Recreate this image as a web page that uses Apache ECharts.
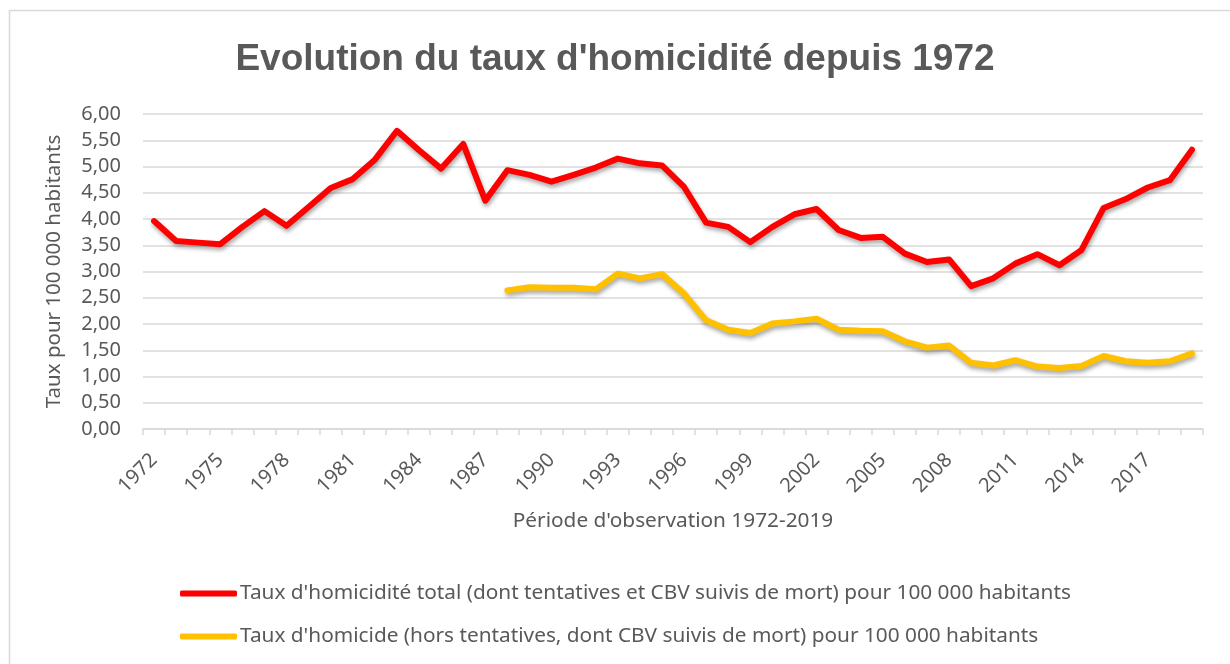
<!DOCTYPE html>
<html><head><meta charset="utf-8">
<script src="https://cdn.jsdelivr.net/npm/echarts@6/dist/echarts.min.js"></script>
<style>html,body{margin:0;padding:0;background:#fff}#c{width:1230px;height:664px}</style>
</head><body><div id="c"></div>
<script>
var years = [];
for (var y = 1972; y <= 2019; y++) years.push(String(y));
var totalRate = [3.96,3.58,3.55,3.52,3.85,4.15,3.87,4.23,4.59,4.76,5.13,5.68,5.31,4.96,5.43,4.35,
  4.93,4.84,4.71,4.84,4.98,5.15,5.06,5.02,4.61,3.93,3.85,3.56,3.85,4.09,4.19,3.79,
  3.64,3.66,3.34,3.18,3.23,2.72,2.87,3.15,3.33,3.12,3.41,4.21,4.38,4.60,4.74,5.32];
var homicideRate = [null,null,null,null,null,null,null,null,null,null,null,null,null,null,null,null,
  2.64,2.70,2.69,2.69,2.66,2.96,2.87,2.95,2.58,2.07,1.89,1.83,2.01,2.05,2.10,1.89,
  1.87,1.86,1.67,1.55,1.59,1.26,1.21,1.31,1.19,1.16,1.20,1.39,1.29,1.26,1.29,1.44];
var titleText = "Evolution du taux d'homicidité depuis 1972";
var yName = "Taux pour 100 000 habitants";
var xName = "Période d'observation 1972-2019";
var seriesNames = ["Taux d'homicidité total (dont tentatives et CBV suivis de mort) pour 100 000 habitants",
  "Taux d'homicide (hors tentatives, dont CBV suivis de mort) pour 100 000 habitants"];

var FONT = "'Noto Sans', sans-serif";
var GRAY = '#595959';
var chart = echarts.init(document.getElementById('c'), null, {renderer: 'canvas'});
var shadow = {shadowColor: 'rgba(0,0,0,0.35)', shadowBlur: 4, shadowOffsetX: 1, shadowOffsetY: 3};
chart.setOption({
  animation: false,
  backgroundColor: '#fff',
  graphic: [{type: 'rect', left: 7, top: 8, shape: {width: 1300, height: 700},
    style: {fill: 'none', stroke: '#d9d9d9', lineWidth: 1.5}, silent: true}],
  title: {text: titleText, left: 'center', top: 36,
    textStyle: {fontFamily: "'Liberation Sans', Arial, sans-serif", fontWeight: 'bold', fontSize: 37, color: GRAY}},
  grid: {left: 143, right: 27, top: 114, bottom: 235},
  legend: {orient: 'vertical', left: 175, top: 578, itemGap: 22, itemWidth: 57, itemHeight: 6,
    icon: 'roundRect', textStyle: {fontFamily: FONT, fontSize: 20.8, color: GRAY, padding: [0,0,0,-2]},
    data: seriesNames},
  xAxis: {type: 'category', data: years, boundaryGap: true,
    name: xName, nameLocation: 'middle', nameGap: 82,
    nameTextStyle: {fontFamily: FONT, fontSize: 20.8, color: GRAY},
    axisLine: {lineStyle: {color: '#d9d9d9', width: 1.5}},
    axisTick: {show: true, length: 6, interval: 0, lineStyle: {color: '#d9d9d9', width: 1.5}},
    axisLabel: {interval: 2, rotate: 45, margin: 28, fontFamily: FONT, fontSize: 20, color: GRAY}},
  yAxis: {type: 'value', min: 0, max: 6, interval: 0.5,
    name: yName, nameLocation: 'middle', nameGap: 78, nameRotate: 90,
    nameTextStyle: {fontFamily: FONT, fontSize: 20.5, color: GRAY},
    axisLine: {show: false}, axisTick: {show: false},
    splitLine: {lineStyle: {color: '#d9d9d9', width: 1.5}},
    axisLabel: {margin: 22, fontFamily: FONT, fontSize: 20, color: GRAY,
      formatter: function (v) { return v.toFixed(2).replace('.', ','); }}},
  series: [
    {name: seriesNames[0], type: 'line', data: totalRate, symbol: 'none', connectNulls: false,
      itemStyle: {color: '#ff0000'},
      lineStyle: Object.assign({color: '#ff0000', width: 6, join: 'round', cap: 'round'}, shadow)},
    {name: seriesNames[1], type: 'line', data: homicideRate, symbol: 'none',
      itemStyle: {color: '#ffc000'},
      lineStyle: Object.assign({color: '#ffc000', width: 6, join: 'round', cap: 'round'}, shadow)}
  ]
});
</script></body></html>
